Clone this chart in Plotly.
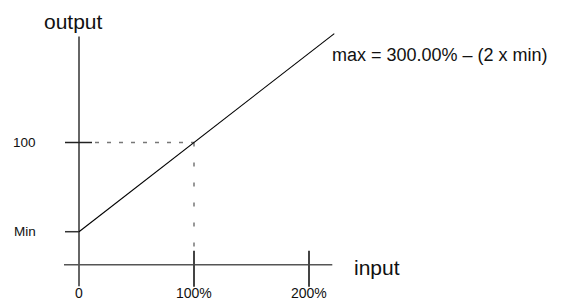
import plotly.graph_objects as go

# ---- data ----
input_ticks = [0, 100, 200]
input_tick_labels = ["0", "100%", "200%"]
output_ticks = [27, 100]
output_tick_labels = ["Min", "100"]
curve_x = [0, 100, 222]
curve_y = [27, 100, 189.1]
axis_x_label = "input"
axis_y_label = "output"
formula_text = "max = 300.00% \u2013 (2 x min)"

# ---- scales (pixels per data unit); page body adds an 8px offset ----
W, H = 565, 302
OFF = 8
px_x0, px_kx = 79 - OFF, 1.15      # pixel of input 0, px per unit
px_y0, px_ky = 264.7 - OFF, 1.222  # pixel of output 0, px per unit
x_range = [-px_x0 / px_kx, (W - px_x0) / px_kx]
y_range = [(px_y0 - H) / px_ky, px_y0 / px_ky]

def dx(p):
    return p / px_kx

def dy(p):
    return p / px_ky

FONT = "Liberation Sans, Arial, sans-serif"
fig = go.Figure()

def seg(xs, ys, color, width, dash=None):
    fig.add_trace(go.Scatter(x=xs, y=ys, mode="lines", hoverinfo="skip",
                             line=dict(color=color, width=width, dash=dash),
                             showlegend=False))

# axes
seg([0, 0], [-dy(21.5), curve_y[-1] - dy(3)], "#333333", 1.5)
seg([-dx(15), curve_x[-1] - dx(2)], [0, 0], "#555555", 1.5)

# x ticks (non-zero)
for t in input_ticks[1:]:
    seg([t, t], [dy(14), -dy(22)], "#444444", 2)
# y ticks
ref_y = output_ticks[1]
ref_x = input_ticks[1]
seg([-dx(14), dx(13)], [ref_y, ref_y], "#222222", 1.5)
seg([-dx(14), 0], [output_ticks[0], output_ticks[0]], "#333333", 1.5)

# dashed guides
seg([dx(16), ref_x], [ref_y, ref_y], "#777777", 1.3, "4px,8px")
seg([ref_x, ref_x], [ref_y, dy(14)], "#777777", 1.5, "4px,16px")

# main curve
seg(curve_x, curve_y, "#000000", 1.1)

ann = []
for t, lab in zip(input_ticks, input_tick_labels):
    ann.append(dict(x=t, y=-dy(28.5), text=lab, showarrow=False,
                    xanchor="center", yanchor="middle",
                    font=dict(size=14, color="#111111", family=FONT)))
for t, lab in zip(output_ticks, output_tick_labels):
    ann.append(dict(x=-dx(41), y=t, text=lab, showarrow=False,
                    xanchor="right", yanchor="middle",
                    font=dict(size=13.5, color="#111111", family=FONT)))
ann.append(dict(x=-dx(6), y=dy(264.7 - 21), text=axis_y_label, showarrow=False,
                xanchor="center", yanchor="middle",
                font=dict(size=21, color="#111111", family=FONT)))
ann.append(dict(x=dx(273), y=-dy(3), text=axis_x_label, showarrow=False,
                xanchor="left", yanchor="middle",
                font=dict(size=21, color="#111111", family=FONT)))
ann.append(dict(x=dx(251), y=dy(264.7 - 55), text=formula_text, showarrow=False,
                xanchor="left", yanchor="middle",
                font=dict(size=18, color="#111111", family=FONT)))

fig.update_layout(
    width=W, height=H,
    margin=dict(l=0, r=0, t=0, b=0),
    paper_bgcolor="white", plot_bgcolor="white",
    xaxis=dict(range=x_range, visible=False, fixedrange=True),
    yaxis=dict(range=y_range, visible=False, fixedrange=True),
    annotations=ann,
    showlegend=False,
)
fig.write_html("out.html")
